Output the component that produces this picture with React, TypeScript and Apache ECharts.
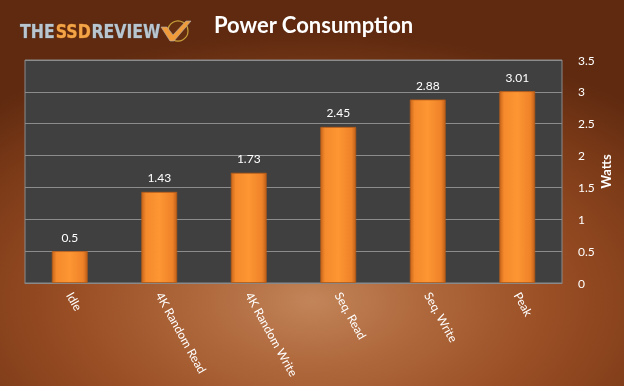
import React, { useEffect, useRef } from "react";
import * as echarts from "echarts";

const categories = ["Idle", "4K Random Read", "4K Random Write", "Seq. Read", "Seq. Write", "Peak"];
const watts = [0.5, 1.43, 1.73, 2.45, 2.88, 3.01];
const yTicks = [0, 0.5, 1, 1.5, 2, 2.5, 3, 3.5];

export default function App() {
  const ref = useRef<HTMLDivElement>(null);
  useEffect(() => {
    if (!ref.current) return;
    const chart = echarts.init(ref.current, null, { renderer: "svg" });
    const barFill = new echarts.graphic.LinearGradient(0, 0, 1, 0, [
      { offset: 0, color: "#c8661c" },
      { offset: 0.12, color: "#f58a2c" },
      { offset: 0.5, color: "#fd9633" },
      { offset: 0.88, color: "#ee8228" },
      { offset: 1, color: "#c0601a" },
    ]);
    const logoFont = "bold 19px 'DejaVu Sans'";
    const silver = "#b9c6cf";
    const orange = "#f2a446";
    chart.setOption({
      animation: false,
      backgroundColor: "transparent",
      title: {
        text: "Power Consumption",
        left: 209,
        top: 8,
        textStyle: { color: "#ffffff", fontSize: 22, fontWeight: "bold", fontFamily: "Lato" },
      },
      graphic: [
        {
          type: "group",
          x: 20,
          y: 22,
          scaleX: 0.83,
          children: [
            { type: "text", x: 0, y: 0, style: { text: "THE", font: logoFont, fill: silver, stroke: "#5d7484", lineWidth: 0.6 } },
            { type: "text", x: 43, y: 0, style: { text: "SSD", font: logoFont, fill: orange, stroke: "#c26a1e", lineWidth: 0.6 } },
            { type: "text", x: 86, y: 0, style: { text: "REVIEW", font: logoFont, fill: silver, stroke: "#5d7484", lineWidth: 0.6 } },
          ],
        },
        {
          type: "circle",
          shape: { cx: 178, cy: 31, r: 10 },
          style: { fill: "rgba(120,60,20,0.25)", stroke: "#c9a23a", lineWidth: 1.2 },
        },
        {
          type: "polygon",
          shape: {
            points: [
              [161, 27], [167, 27], [173, 35], [186, 21], [191, 21], [174, 41], [170, 41],
            ],
          },
          style: { fill: "#f09a3a", stroke: "#b3b3b3", lineWidth: 0.6 },
        },
      ],
      grid: {
        left: 25,
        right: 62,
        top: 60,
        bottom: 103,
        show: true,
        backgroundColor: "#404040",
        borderColor: "#8a8a8a",
        borderWidth: 1,
      },
      xAxis: {
        type: "category",
        data: categories,
        axisLine: { show: true, lineStyle: { color: "#8a8a8a" } },
        axisTick: { show: false },
        axisLabel: {
          color: "#ffffff",
          fontSize: 12,
          rotate: -61,
          margin: 10,
          fontFamily: "Lato",
          interval: 0,
        },
      },
      yAxis: {
        type: "value",
        position: "right",
        min: 0,
        max: 3.5,
        interval: 0.5,
        name: "Watts",
        nameLocation: "middle",
        nameRotate: 90,
        nameGap: 37,
        nameMoveOverlap: false,
        nameTextStyle: { color: "#ffffff", fontSize: 13, fontWeight: "bold", fontFamily: "Lato" },
        axisLine: { show: false },
        axisTick: { show: false },
        axisLabel: {
          color: "#ffffff",
          fontSize: 12,
          margin: 16,
          fontFamily: "Lato",
          formatter: (v: number) => (yTicks.includes(v) ? String(v) : ""),
        },
        splitLine: { show: true, lineStyle: { color: "#8c8c8c", width: 1 } },
      },
      series: [
        {
          type: "bar",
          data: watts,
          barWidth: "40%",
          itemStyle: { color: barFill, borderColor: "#b85a16", borderWidth: 0.8 },
          label: {
            show: true,
            position: "top",
            distance: 8,
            color: "#ffffff",
            fontSize: 12,
            fontFamily: "Lato",
          },
        },
      ],
    } as any);
    return () => chart.dispose();
  }, []);
  return (
    <div
      ref={ref}
      style={{
        position: "fixed",
        left: 0,
        top: 0,
        width: 624,
        height: 386,
        background:
          "radial-gradient(ellipse 75% 70% at 50% 78%, #c28559 0%, #b06a3e 22%, #9b4f25 50%, #7d3b18 78%, #5f2a10 100%)",
      }}
    />
  );
}
